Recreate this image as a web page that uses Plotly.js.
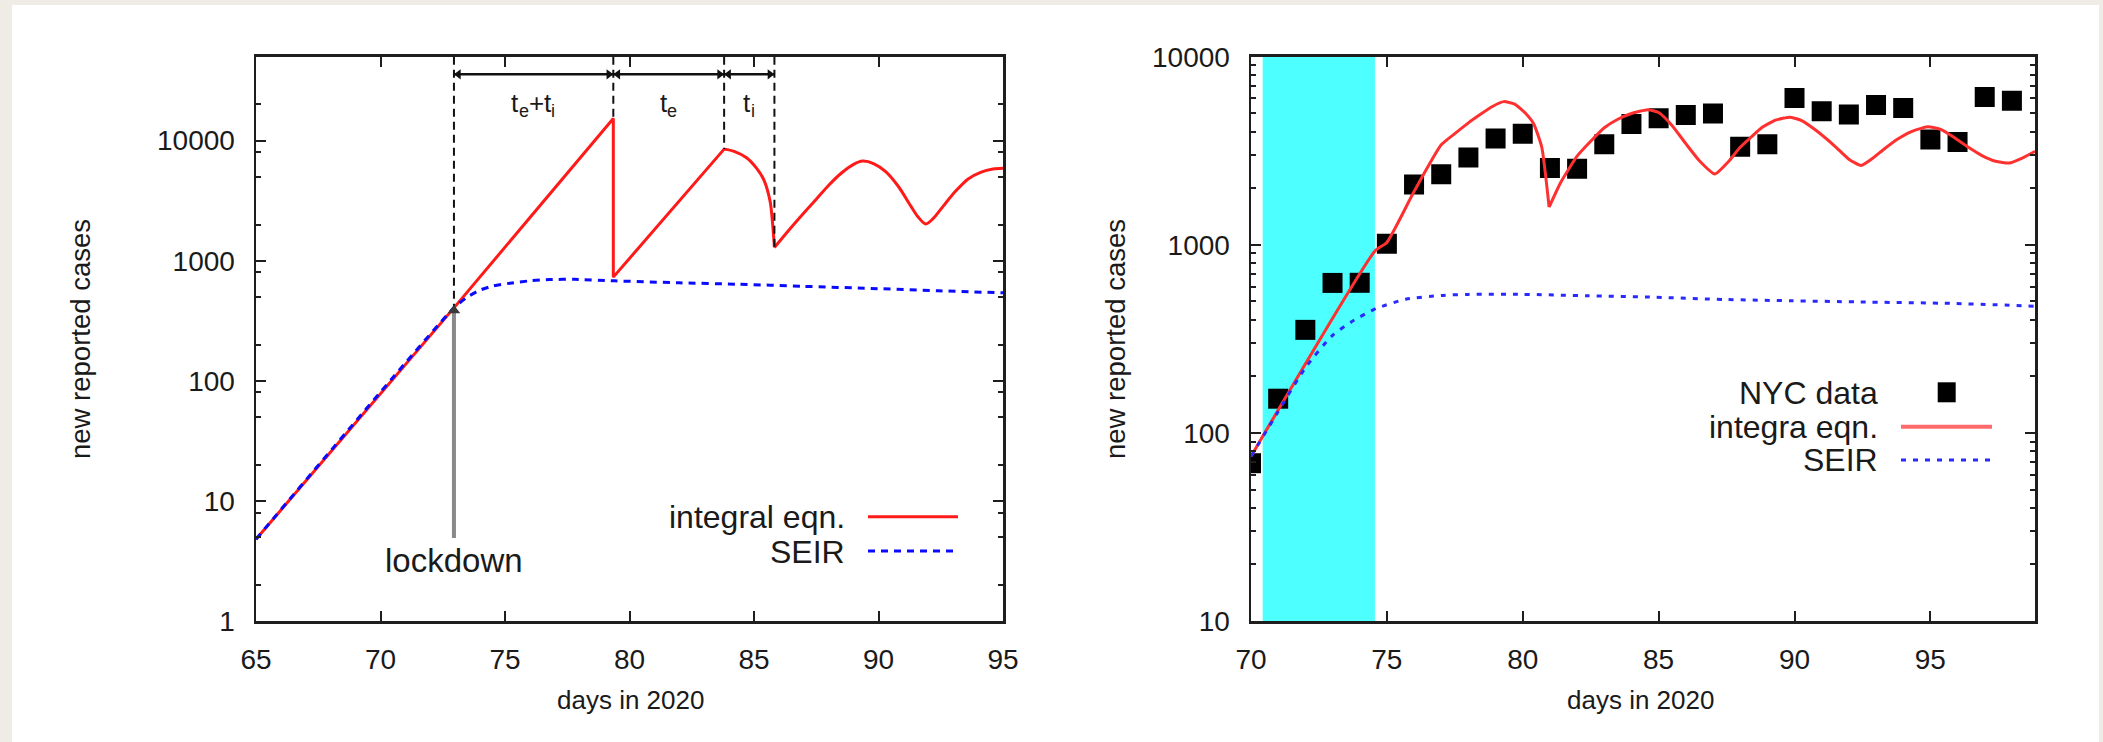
<!DOCTYPE html>
<html>
<head>
<meta charset="utf-8">
<script src="https://cdn.plot.ly/plotly-3.0.1.min.js"></script>
<style>
  html, body { margin: 0; padding: 0; background: #eeece5; }
  #chart { width: 2103px; height: 742px; }
</style>
</head>
<body>
<div id="chart"></div>
<script>
// ===================== DATA =====================
// Left panel: model curves
const leftIntDays  = [65, 72.95, 79.35, 79.35, 83.8, 84.2, 84.7, 85.1, 85.4, 85.65, 85.75, 85.82, 86.5, 87.0, 87.5, 88.0, 88.5, 89.0, 89.37, 89.8, 90.3, 90.8, 91.3, 91.6, 91.9, 92.2, 92.6, 93.1, 93.6, 94.1, 94.6, 95];
const leftIntCases = [4.8, 405, 15300, 730, 8500, 8150, 7200, 5900, 4700, 3100, 2000, 1290, 1900, 2500, 3250, 4250, 5350, 6350, 6760, 6450, 5500, 4150, 2850, 2300, 2020, 2250, 2850, 3800, 4800, 5450, 5800, 5880];
const leftIntBreaks = [4, 11];   // indices of the sharp corners (peak at 83.8, cusp at 85.82)
const leftSeirDays  = [65, 72.95, 73.5, 74.0, 74.5, 75.2, 76.0, 76.8, 77.8, 79.4, 82.0, 84.3, 87.0, 89.7, 92.4, 95];
const leftSeirCases = [4.8, 405, 500, 570, 615, 650, 680, 697, 700, 680, 655, 638, 612, 588, 562, 540];

// Left panel: phase markers (lockdown, end of t_e+t_i, end of t_e, end of t_i)
const phaseDays   = [72.95, 79.35, 83.8, 85.82];
const phaseCases  = [405, 15300, 8500, 1290];
// phase labels as [text, "main" | "sub"] pieces:  t_e+t_i , t_e , t_i
const phaseLabels = [
  [["t", "main"], ["e", "sub"], ["+", "main"], ["t", "main"], ["i", "sub"]],
  [["t", "main"], ["e", "sub"]],
  [["t", "main"], ["i", "sub"]]
];
const phaseArrowLevel = 35650;
const lockdownDay = 72.95;
const lockdownArrowCases = [4.9, 385];
const lockdownLabelLevel = 3.2;

// Right panel: NYC data and model curves
const nycDays  = [70, 71, 72, 73, 74, 75, 76, 77, 78, 79, 80, 81, 82, 83, 84, 85, 86, 87, 88, 89, 90, 91, 92, 93, 94, 95, 96, 97, 98];
const nycCases = [69, 152, 353, 627, 628, 1014, 2090, 2375, 2910, 3670, 3890, 2560, 2540, 3420, 4390, 4710, 4900, 4990, 3325, 3420, 6040, 5130, 4930, 5530, 5340, 3630, 3520, 6110, 5830];

const rightIntDays  = [70, 74.57, 75, 76, 77, 77.5, 78, 78.5, 78.9, 79.3, 79.7, 80.1, 80.4, 80.7, 80.97, 81.4, 82, 82.5, 83, 83.5, 84, 84.6, 85, 85.5, 86, 86.5, 87.07, 87.6, 88, 88.4, 88.8, 89.3, 89.85, 90.3, 90.8, 91.5, 92, 92.45, 92.9, 93.3, 93.8, 94.3, 94.9, 95.4, 95.9, 96.4, 96.9, 97.4, 97.9, 98.4, 98.85];
const rightIntCases = [75, 930, 1030, 1920, 3400, 3900, 4450, 5000, 5450, 5770, 5600, 5000, 4400, 3300, 1585, 2150, 2960, 3550, 4190, 4650, 4990, 5230, 5050, 4300, 3450, 2800, 2380, 2800, 3300, 3730, 4200, 4600, 4770, 4550, 4050, 3330, 2850, 2640, 2900, 3230, 3650, 4000, 4240, 4100, 3700, 3300, 2980, 2780, 2720, 2900, 3140];
const rightIntBreaks = [14];     // index of the cusp at 80.97
const rightSeirDays  = [70, 71, 72, 73, 73.8, 74.6, 75.7, 77, 78, 80, 82.4, 84.9, 87.4, 89.9, 92.3, 95.8, 98.8];
const rightSeirCases = [75, 130, 222, 330, 398, 458, 514, 538, 545, 545, 536, 526, 512, 504, 497, 488, 472];

// Lockdown transition band (right panel)
const bandDays = [70.43, 74.56];

// Tick labels
const leftDayTicks  = [65, 70, 75, 80, 85, 90, 95];
const rightDayTicks = [70, 75, 80, 85, 90, 95];
const leftCaseTicks  = [1, 10, 100, 1000, 10000];
const rightCaseTicks = [10, 100, 1000, 10000];
const leftMinorTicks  = [2, 5, 8, 20, 50, 80, 200, 500, 800, 2000, 5000, 8000, 20000];
const rightMinorTicks = [20, 30, 40, 50, 60, 70, 80, 90, 200, 300, 400, 500, 600, 700, 800, 900, 2000, 3000, 4000, 5000, 6000, 7000, 8000, 9000];

// Text
const xTitle = "days in 2020";
const yTitle = "new reported cases";
const leftLegend  = ["integral eqn.", "SEIR"];
const rightLegend = ["NYC data", "integra eqn.", "SEIR"];
const lockdownText = "lockdown";

// ===================== STYLE / LAYOUT =====================
const W = 2103, H = 742;
const px = x => x / W;
const py = y => 1 - y / H;
const FONT = '"Liberation Sans", Arial, Helvetica, sans-serif';
const INK = '#1e1e1e';
const RED = '#ff1a1a';
const RED2 = '#ff3030';
const BLUE = '#0a0aff';
const BLUE2 = '#2a2aff';

const L = { x0: 256, x1: 1003 };
const R = { x0: 1251, x1: 2035 };
const TOP = 56.7, BOT = 621;
const leftTop = 50000;
const dayToPx = d => L.x0 + (d - 65) * (L.x1 - L.x0) / 30;

function axisBase() {
  return {
    showline: true, linecolor: INK, linewidth: 2.5, mirror: 'ticks',
    ticks: 'inside', ticklen: 10, tickwidth: 2, tickcolor: INK,
    showgrid: false, zeroline: false, fixedrange: true,
    tickfont: { family: FONT, size: 28, color: '#1a1a1a' },
    tickmode: 'array'
  };
}

// split a curve into pieces at sharp corners (pieces share the corner point)
function pieces(xs, ys, breaks) {
  const cuts = [0].concat(breaks, [xs.length - 1]);
  const out = [];
  for (let i = 0; i < cuts.length - 1; i++) {
    out.push({ x: xs.slice(cuts[i], cuts[i + 1] + 1), y: ys.slice(cuts[i], cuts[i + 1] + 1) });
  }
  return out;
}

const traces = [];
// left: integral eqn. (first piece straight with vertical drop, later pieces smooth)
pieces(leftIntDays, leftIntCases, leftIntBreaks).forEach((p, i) => {
  traces.push({ x: p.x, y: p.y, xaxis: 'x', yaxis: 'y', mode: 'lines',
    line: { color: RED, width: 3, shape: i === 0 ? 'linear' : 'spline', smoothing: 0.8 }, hoverinfo: 'skip' });
});
// left: SEIR
traces.push({ x: leftSeirDays, y: leftSeirCases, xaxis: 'x', yaxis: 'y', mode: 'lines',
  line: { color: BLUE, width: 3, dash: '7px,6px', shape: 'spline', smoothing: 0.6 }, hoverinfo: 'skip' });
// left: vertical dashed phase lines
const vx = [], vy = [];
phaseDays.forEach((d, i) => { vx.push(d, d, null); vy.push(leftTop, phaseCases[i], null); });
traces.push({ x: vx, y: vy, xaxis: 'x', yaxis: 'y', mode: 'lines',
  line: { color: '#111', width: 2, dash: '8px,5px' }, hoverinfo: 'skip', connectgaps: false });
// left: double-headed phase arrows
for (let i = 0; i < phaseDays.length - 1; i++) {
  traces.push({ x: [phaseDays[i], phaseDays[i + 1]], y: [phaseArrowLevel, phaseArrowLevel],
    xaxis: 'x', yaxis: 'y', mode: 'lines', line: { color: '#111', width: 2.5 }, hoverinfo: 'skip' });
  traces.push({ x: [phaseDays[i] + 0.18, phaseDays[i + 1] - 0.18], y: [phaseArrowLevel, phaseArrowLevel],
    xaxis: 'x', yaxis: 'y', mode: 'markers',
    marker: { symbol: ['triangle-left', 'triangle-right'], size: 9, color: '#111' }, hoverinfo: 'skip' });
}
// left: lockdown arrow (gray shaft + head)
traces.push({ x: [lockdownDay, lockdownDay], y: lockdownArrowCases, xaxis: 'x', yaxis: 'y', mode: 'lines',
  line: { color: '#8a8a8a', width: 4 }, hoverinfo: 'skip' });
traces.push({ x: [lockdownDay], y: [lockdownArrowCases[1]], xaxis: 'x', yaxis: 'y', mode: 'markers',
  marker: { symbol: 'triangle-up', size: 11, color: '#3a3a3a' }, hoverinfo: 'skip' });

// right: NYC data
traces.push({ x: nycDays, y: nycCases, xaxis: 'x2', yaxis: 'y2', mode: 'markers',
  marker: { symbol: 'square', size: 20, color: '#000' }, hoverinfo: 'skip' });
// right: integral eqn.
pieces(rightIntDays, rightIntCases, rightIntBreaks).forEach(p => {
  traces.push({ x: p.x, y: p.y, xaxis: 'x2', yaxis: 'y2', mode: 'lines',
    line: { color: RED2, width: 3, shape: 'spline', smoothing: 0.5 }, hoverinfo: 'skip' });
});
// right: SEIR
traces.push({ x: rightSeirDays, y: rightSeirCases, xaxis: 'x2', yaxis: 'y2', mode: 'lines',
  line: { color: BLUE2, width: 3, dash: '5px,7px', shape: 'spline', smoothing: 0.6 }, hoverinfo: 'skip' });

const annotations = [];
const txt = (text, x, y, size, extra) => Object.assign({
  text, x: px(x), y: py(y), xref: 'paper', yref: 'paper', showarrow: false,
  xanchor: 'center', yanchor: 'middle', font: { family: FONT, size, color: '#1a1a1a' }
}, extra || {});

// axis titles
annotations.push(txt(xTitle, 630, 700, 26));
annotations.push(txt(xTitle, 1640, 700, 26));
annotations.push(txt(yTitle, 80, 339, 27.5, { textangle: -90 }));
annotations.push(txt(yTitle, 1115, 339, 27.5, { textangle: -90 }));

// left legend
annotations.push(txt(leftLegend[0], 846.7, 516.7, 32, { xanchor: 'right' }));
annotations.push(txt(leftLegend[1], 846.7, 551.7, 32, { xanchor: 'right' }));
// right legend
annotations.push(txt(rightLegend[0], 1880, 393.3, 32, { xanchor: 'right' }));
annotations.push(txt(rightLegend[1], 1880, 426.7, 32, { xanchor: 'right' }));
annotations.push(txt(rightLegend[2], 1880, 460, 32, { xanchor: 'right' }));

// phase labels: glyph-by-glyph layout of "t" with subscripts (Arial advance widths)
const MAIN = 26, SUB = 18, LABEL_Y = 103, SUB_DY = 8;
const ADV = { t: 0.278, e: 0.556, i: 0.222, '+': 0.584 };
phaseLabels.forEach((parts, i) => {
  const widths = parts.map(([ch, kind]) => ADV[ch] * (kind === 'sub' ? SUB : MAIN));
  const total = widths.reduce((a, b) => a + b, 0);
  let cx = dayToPx((phaseDays[i] + phaseDays[i + 1]) / 2) - total / 2;
  parts.forEach(([ch, kind], k) => {
    const w = widths[k];
    const isSub = kind === 'sub';
    annotations.push(txt(ch, cx + w / 2, LABEL_Y + (isSub ? SUB_DY : 0), isSub ? SUB : MAIN, { borderpad: 0 }));
    cx += w;
  });
});
annotations.push({
  x: lockdownDay, y: Math.log10(lockdownLabelLevel), xref: 'x', yref: 'y',
  text: lockdownText, showarrow: false, xanchor: 'center', yanchor: 'middle',
  font: { family: FONT, size: 33, color: '#1a1a1a' }
});

const shapes = [
  // white page area over beige border
  { type: 'rect', xref: 'paper', yref: 'paper', x0: px(12), x1: px(2099), y0: 0, y1: py(5),
    fillcolor: '#ffffff', line: { width: 0 }, layer: 'below' },
  // lockdown transition band
  { type: 'rect', xref: 'x2', yref: 'y2 domain', x0: bandDays[0], x1: bandDays[1], y0: 0, y1: 1,
    fillcolor: '#4dffff', line: { width: 0 }, layer: 'below' },
  // left legend samples
  { type: 'line', xref: 'paper', yref: 'paper', x0: px(868), x1: px(958), y0: py(516.7), y1: py(516.7),
    line: { color: RED, width: 3 } },
  { type: 'line', xref: 'paper', yref: 'paper', x0: px(868), x1: px(958), y0: py(551), y1: py(551),
    line: { color: BLUE, width: 3, dash: '7px,6px' } },
  // right legend samples
  { type: 'rect', xref: 'paper', yref: 'paper', x0: px(1937.7), x1: px(1955.7), y0: py(402.3), y1: py(382.3),
    fillcolor: '#000', line: { width: 0 } },
  { type: 'line', xref: 'paper', yref: 'paper', x0: px(1901), x1: px(1992), y0: py(426.7), y1: py(426.7),
    line: { color: '#ff6a6a', width: 4 } },
  { type: 'line', xref: 'paper', yref: 'paper', x0: px(1901), x1: px(1992), y0: py(460), y1: py(460),
    line: { color: BLUE2, width: 3, dash: '5px,7px' } }
];

const layout = {
  width: W, height: H,
  margin: { l: 0, r: 0, t: 0, b: 0, pad: 0 },
  paper_bgcolor: '#eeece5', plot_bgcolor: '#ffffff',
  showlegend: false,
  font: { family: FONT, color: '#1a1a1a' },
  xaxis: Object.assign(axisBase(), {
    domain: [px(L.x0), px(L.x1)], range: [65, 95], tickvals: leftDayTicks,
    anchor: 'y', ticklabelstandoff: 12
  }),
  yaxis: Object.assign(axisBase(), {
    type: 'log', domain: [py(BOT), py(TOP)], range: [0, Math.log10(leftTop)],
    tickvals: leftCaseTicks, ticktext: leftCaseTicks.map(String), anchor: 'x', ticklabelstandoff: 13,
    minor: { tickmode: 'array', tickvals: leftMinorTicks, ticks: 'inside', ticklen: 5, tickwidth: 2, tickcolor: INK, showgrid: false }
  }),
  xaxis2: Object.assign(axisBase(), {
    domain: [px(R.x0), px(R.x1)], range: [70, 98.85], tickvals: rightDayTicks,
    anchor: 'y2', ticklabelstandoff: 12
  }),
  yaxis2: Object.assign(axisBase(), {
    type: 'log', domain: [py(BOT), py(TOP)], range: [1, 4],
    tickvals: rightCaseTicks, ticktext: rightCaseTicks.map(String), anchor: 'x2', ticklabelstandoff: 13,
    minor: { tickmode: 'array', tickvals: rightMinorTicks, ticks: 'inside', ticklen: 5, tickwidth: 2, tickcolor: INK, showgrid: false }
  }),
  annotations, shapes
};

Plotly.newPlot('chart', traces, layout, { displayModeBar: false, staticPlot: true });
</script>
</body>
</html>
